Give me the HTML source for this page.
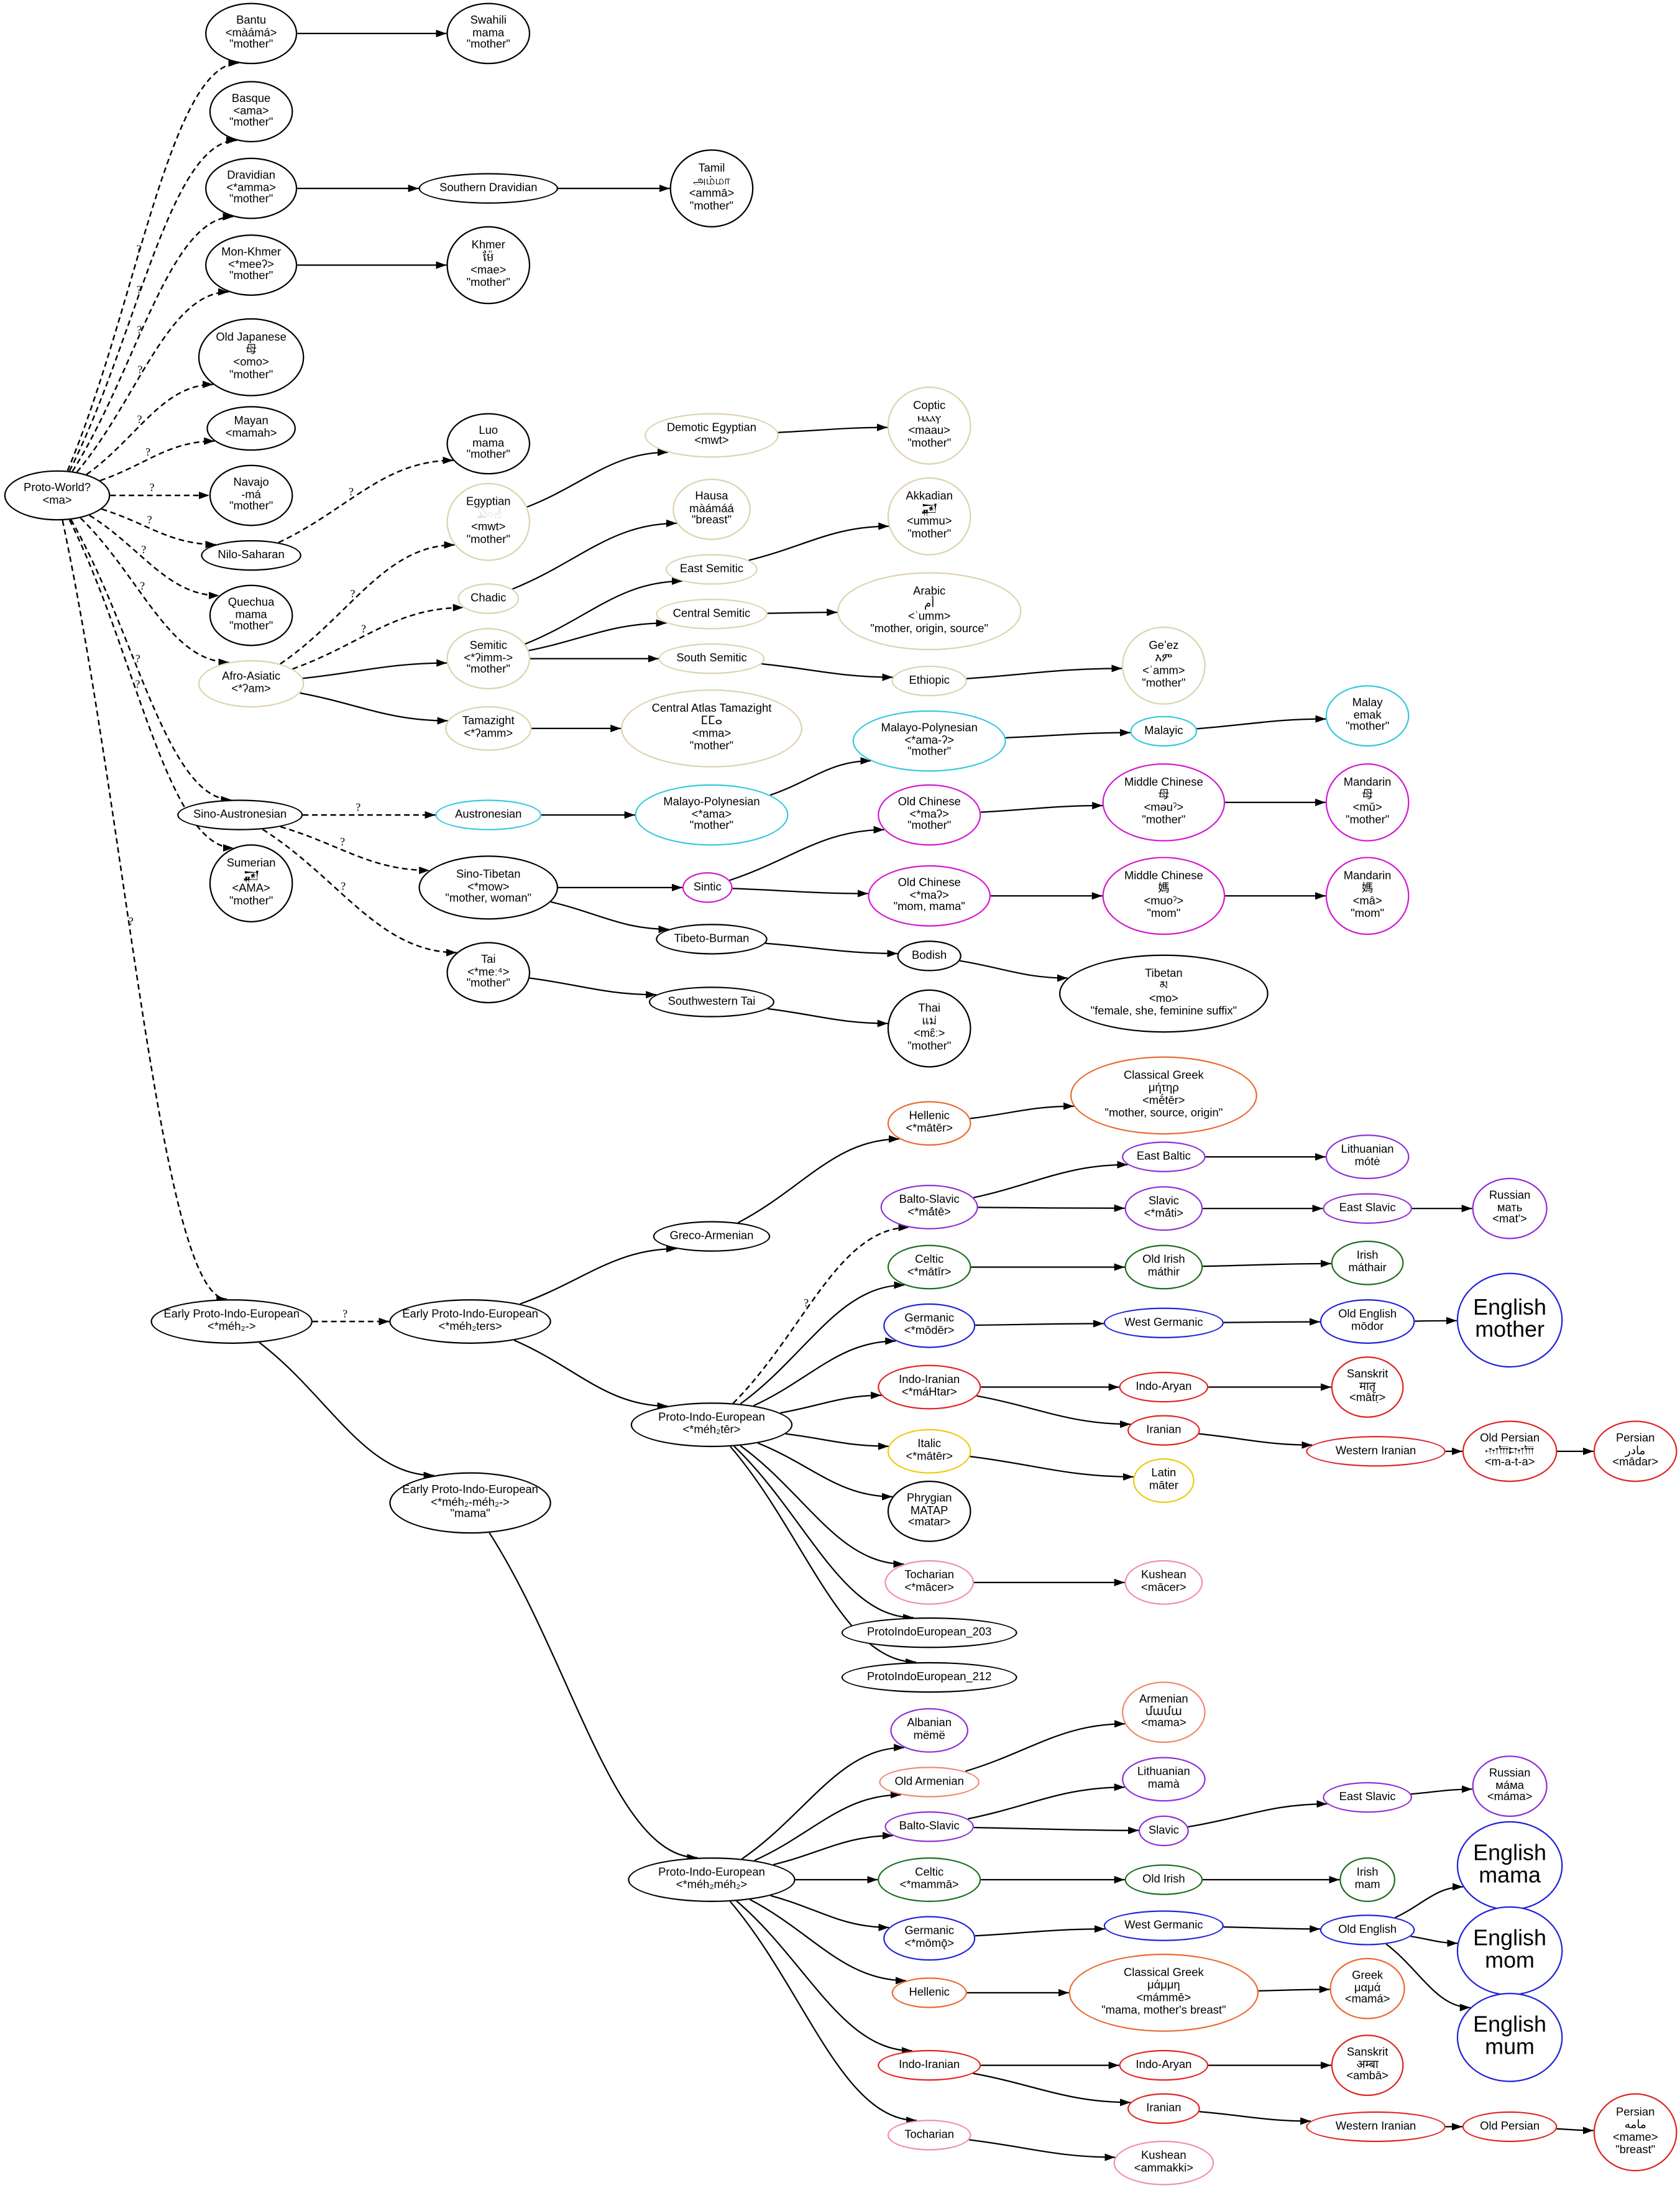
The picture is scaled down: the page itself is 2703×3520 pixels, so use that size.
<!DOCTYPE html>
<html><head><meta charset="utf-8">
<style>
html,body{margin:0;padding:0;background:#fff;width:2703px;height:3520px;overflow:hidden}
#c{position:absolute;left:0;top:0;width:1204px;height:1568px;transform:scale(2.24502);transform-origin:0 0}
svg{position:absolute;left:0;top:0}
.n{position:absolute;left:calc((var(--x) - var(--w))*1px);top:calc((var(--y) - var(--h))*1px);width:calc(var(--w)*2px);height:calc(var(--h)*2px);border:0.5px solid #000;border-radius:50%;box-sizing:border-box;display:flex;align-items:center;justify-content:center;text-align:center;font:8.2px/8.9px "Liberation Sans","Noto Sans CJK SC","DejaVu Sans",sans-serif;white-space:nowrap;background:#fff;color:#000}
.b{border-color:#ddd3ae}.c{border-color:#38c8dc}.m{border-color:#d21ad2}.o{border-color:#ea6a32}.p{border-color:#9030d8}.g{border-color:#1e6e1e}.u{border-color:#2222d8}.r{border-color:#e02424}.y{border-color:#eccc10}.k{border-color:#f28cb8}.s{border-color:#f08a70}
.big{font-size:16px;line-height:16.5px}
.q{font:8px "Liberation Serif",serif;fill:#000}
</style></head><body>
<div id="c">
<svg id="sv" width="1204" height="1568" viewBox="0 0 1204 1568">
<defs><marker id="ar" markerUnits="userSpaceOnUse" markerWidth="8" markerHeight="6" refX="7.5" refY="2.7" orient="auto"><polygon points="0,0 7.5,2.7 0,5.4" fill="#000"/></marker></defs>
<g id="eg"></g></svg>

<div class="n" id="pw" style="--x:41;--y:355;--w:38;--h:18"><div>Proto-World?<br>&lt;ma&gt;</div></div>
<div class="n" id="bantu" style="--x:180;--y:24;--w:33;--h:22"><div>Bantu<br>&lt;màámá&gt;<br>"mother"</div></div>
<div class="n" id="swa" style="--x:350;--y:24;--w:30;--h:22"><div>Swahili<br>mama<br>"mother"</div></div>
<div class="n" id="basque" style="--x:180;--y:80;--w:30;--h:22"><div>Basque<br>&lt;ama&gt;<br>"mother"</div></div>
<div class="n" id="drav" style="--x:180;--y:135;--w:33;--h:22"><div>Dravidian<br>&lt;*amma&gt;<br>"mother"</div></div>
<div class="n" id="sdrav" style="--x:350;--y:135;--w:50;--h:11"><div>Southern Dravidian</div></div>
<div class="n" id="tamil" style="--x:510;--y:135;--w:30;--h:28"><div>Tamil<br>அம்மா<br>&lt;ammā&gt;<br>"mother"</div></div>
<div class="n" id="mk" style="--x:180;--y:190;--w:33;--h:22"><div>Mon-Khmer<br>&lt;*meeʔ&gt;<br>"mother"</div></div>
<div class="n" id="khmer" style="--x:350;--y:190;--w:30;--h:28"><div>Khmer<br>ម៉ែ<br>&lt;mae&gt;<br>"mother"</div></div>
<div class="n" id="oj" style="--x:180;--y:256;--w:38;--h:28"><div>Old Japanese<br>母<br>&lt;omo&gt;<br>"mother"</div></div>
<div class="n" id="mayan" style="--x:180;--y:307;--w:32;--h:16"><div>Mayan<br>&lt;mamah&gt;</div></div>
<div class="n" id="navajo" style="--x:180;--y:355;--w:30;--h:22"><div>Navajo<br>-má<br>"mother"</div></div>
<div class="n" id="ns" style="--x:180;--y:398;--w:36;--h:11"><div>Nilo-Saharan</div></div>
<div class="n" id="quechua" style="--x:180;--y:441;--w:30;--h:22"><div>Quechua<br>mama<br>"mother"</div></div>
<div class="n b" id="aa" style="--x:180;--y:490;--w:38;--h:17"><div>Afro-Asiatic<br>&lt;*ʔam&gt;</div></div>
<div class="n" id="sa" style="--x:172;--y:584;--w:45;--h:11"><div>Sino-Austronesian</div></div>
<div class="n" id="sum" style="--x:180;--y:633;--w:30;--h:28"><div>Sumerian<br>𒂼<br>&lt;AMA&gt;<br>"mother"</div></div>
<div class="n" id="luo" style="--x:350;--y:318;--w:30;--h:22"><div>Luo<br>mama<br>"mother"</div></div>
<div class="n b" id="egy" style="--x:350;--y:374;--w:30;--h:28"><div>Egyptian<br><span style="color:#bbb">𓅐𓏏𓁐</span><br>&lt;mwt&gt;<br>"mother"</div></div>
<div class="n b" id="chad" style="--x:350;--y:429;--w:22;--h:11"><div>Chadic</div></div>
<div class="n b" id="sem" style="--x:350;--y:472;--w:30;--h:22"><div>Semitic<br>&lt;*ʔimm-&gt;<br>"mother"</div></div>
<div class="n b" id="tam" style="--x:350;--y:522;--w:31;--h:16"><div>Tamazight<br>&lt;*ʔamm&gt;</div></div>
<div class="n b" id="dem" style="--x:510;--y:312;--w:48;--h:16"><div>Demotic Egyptian<br>&lt;mwt&gt;</div></div>
<div class="n b" id="hausa" style="--x:510;--y:365;--w:28;--h:22"><div>Hausa<br>màámáá<br>"breast"</div></div>
<div class="n b" id="esem" style="--x:510;--y:408;--w:33;--h:11"><div>East Semitic</div></div>
<div class="n b" id="csem" style="--x:510;--y:440;--w:40;--h:11"><div>Central Semitic</div></div>
<div class="n b" id="ssem" style="--x:510;--y:472;--w:38;--h:11"><div>South Semitic</div></div>
<div class="n b" id="cat" style="--x:510;--y:522;--w:65;--h:28"><div>Central Atlas Tamazight<br>ⵎⵎⴰ<br>&lt;mma&gt;<br>"mother"</div></div>
<div class="n b" id="coptic" style="--x:666;--y:305;--w:30;--h:28"><div>Coptic<br>ⲙⲁⲁⲩ<br>&lt;maau&gt;<br>"mother"</div></div>
<div class="n b" id="akk" style="--x:666;--y:370;--w:30;--h:28"><div>Akkadian<br>𒂼<br>&lt;ummu&gt;<br>"mother"</div></div>
<div class="n b" id="arab" style="--x:666;--y:438;--w:66;--h:28"><div>Arabic<br>أم<br>&lt;ʾumm&gt;<br>"mother, origin, source"</div></div>
<div class="n b" id="eth" style="--x:666;--y:488;--w:27;--h:11"><div>Ethiopic</div></div>
<div class="n b" id="geez" style="--x:834;--y:477;--w:30;--h:28"><div>Geʽez<br>እም<br>&lt;ʾamm&gt;<br>"mother"</div></div>
<div class="n c" id="aus" style="--x:350;--y:584;--w:38;--h:11"><div>Austronesian</div></div>
<div class="n" id="st" style="--x:350;--y:636;--w:50;--h:23"><div>Sino-Tibetan<br>&lt;*mow&gt;<br>"mother, woman"</div></div>
<div class="n" id="tai" style="--x:350;--y:697;--w:30;--h:22"><div>Tai<br>&lt;*meː⁴&gt;<br>"mother"</div></div>
<div class="n c" id="mp1" style="--x:510;--y:584;--w:55;--h:22"><div>Malayo-Polynesian<br>&lt;*ama&gt;<br>"mother"</div></div>
<div class="n c" id="mp2" style="--x:666;--y:531;--w:55;--h:22"><div>Malayo-Polynesian<br>&lt;*ama-ʔ&gt;<br>"mother"</div></div>
<div class="n c" id="malayic" style="--x:834;--y:524;--w:24;--h:11"><div>Malayic</div></div>
<div class="n c" id="malay" style="--x:980;--y:513;--w:30;--h:22"><div>Malay<br>emak<br>"mother"</div></div>
<div class="n m" id="sintic" style="--x:507;--y:636;--w:18;--h:11"><div>Sintic</div></div>
<div class="n m" id="oc1" style="--x:666;--y:584;--w:37;--h:22"><div>Old Chinese<br>&lt;*maʔ&gt;<br>"mother"</div></div>
<div class="n m" id="oc2" style="--x:666;--y:642;--w:44;--h:22"><div>Old Chinese<br>&lt;*maʔ&gt;<br>"mom, mama"</div></div>
<div class="n m" id="mc1" style="--x:834;--y:575;--w:44;--h:28"><div>Middle Chinese<br>母<br>&lt;məuˀ&gt;<br>"mother"</div></div>
<div class="n m" id="mc2" style="--x:834;--y:642;--w:44;--h:28"><div>Middle Chinese<br>媽<br>&lt;muoˀ&gt;<br>"mom"</div></div>
<div class="n m" id="man1" style="--x:980;--y:575;--w:30;--h:28"><div>Mandarin<br>母<br>&lt;mǔ&gt;<br>"mother"</div></div>
<div class="n m" id="man2" style="--x:980;--y:642;--w:30;--h:28"><div>Mandarin<br>媽<br>&lt;mā&gt;<br>"mom"</div></div>
<div class="n" id="tb" style="--x:510;--y:673;--w:40;--h:11"><div>Tibeto-Burman</div></div>
<div class="n" id="bod" style="--x:666;--y:685;--w:23;--h:11"><div>Bodish</div></div>
<div class="n" id="tib" style="--x:834;--y:712;--w:75;--h:28"><div>Tibetan<br>མ<br>&lt;mo&gt;<br>"female, she, feminine suffix"</div></div>
<div class="n" id="swt" style="--x:510;--y:718;--w:45;--h:11"><div>Southwestern Tai</div></div>
<div class="n" id="thai" style="--x:666;--y:737;--w:30;--h:28"><div>Thai<br>แม่<br>&lt;mɛ̂ː&gt;<br>"mother"</div></div>
<div class="n" id="e1" style="--x:166;--y:947;--w:58;--h:16"><div>Early Proto-Indo-European<br>&lt;*méh₂-&gt;</div></div>
<div class="n" id="e2" style="--x:337;--y:947;--w:58;--h:16"><div>Early Proto-Indo-European<br>&lt;*méh₂ters&gt;</div></div>
<div class="n" id="e3" style="--x:337;--y:1077;--w:58;--h:22"><div>Early Proto-Indo-European<br>&lt;*méh₂-méh₂-&gt;<br>"mama"</div></div>
<div class="n" id="ga" style="--x:510;--y:886;--w:42;--h:11"><div>Greco-Armenian</div></div>
<div class="n" id="pie1" style="--x:510;--y:1021;--w:58;--h:16"><div>Proto-Indo-European<br>&lt;*méh₂tēr&gt;</div></div>
<div class="n o" id="hel" style="--x:666;--y:805;--w:30;--h:16"><div>Hellenic<br>&lt;*mātēr&gt;</div></div>
<div class="n o" id="cg" style="--x:834;--y:785;--w:67;--h:28"><div>Classical Greek<br>μήτηρ<br>&lt;mḗtēr&gt;<br>"mother, source, origin"</div></div>
<div class="n p" id="bs" style="--x:666;--y:865;--w:35;--h:16"><div>Balto-Slavic<br>&lt;*mā́tē&gt;</div></div>
<div class="n p" id="eb" style="--x:834;--y:829;--w:30;--h:11"><div>East Baltic</div></div>
<div class="n p" id="lit" style="--x:980;--y:829;--w:30;--h:16"><div>Lithuanian<br>mótė</div></div>
<div class="n p" id="sl" style="--x:834;--y:866;--w:28;--h:16"><div>Slavic<br>&lt;*mā́ti&gt;</div></div>
<div class="n p" id="es" style="--x:980;--y:866;--w:32;--h:11"><div>East Slavic</div></div>
<div class="n p" id="rus" style="--x:1082;--y:866;--w:27;--h:22"><div>Russian<br>мать<br>&lt;matʹ&gt;</div></div>
<div class="n g" id="cel" style="--x:666;--y:908;--w:30;--h:16"><div>Celtic<br>&lt;*mātīr&gt;</div></div>
<div class="n g" id="oi" style="--x:834;--y:908;--w:28;--h:16"><div>Old Irish<br>máthir</div></div>
<div class="n g" id="iri" style="--x:980;--y:905;--w:26;--h:16"><div>Irish<br>máthair</div></div>
<div class="n u" id="ger" style="--x:666;--y:950;--w:33;--h:16"><div>Germanic<br>&lt;*mōdēr&gt;</div></div>
<div class="n u" id="wg" style="--x:834;--y:948;--w:43;--h:11"><div>West Germanic</div></div>
<div class="n u" id="oe" style="--x:980;--y:947;--w:34;--h:16"><div>Old English<br>mōdor</div></div>
<div class="n u big" id="em" style="--x:1082;--y:946;--w:38;--h:34"><div>English<br>mother</div></div>
<div class="n r" id="ii" style="--x:666;--y:994;--w:37;--h:16"><div>Indo-Iranian<br>&lt;*máHtar&gt;</div></div>
<div class="n r" id="ia" style="--x:834;--y:994;--w:32;--h:11"><div>Indo-Aryan</div></div>
<div class="n r" id="san" style="--x:980;--y:994;--w:26;--h:22"><div>Sanskrit<br>मातृ<br>&lt;mātṛ&gt;</div></div>
<div class="n r" id="ir" style="--x:834;--y:1025;--w:26;--h:11"><div>Iranian</div></div>
<div class="n r" id="wi" style="--x:986;--y:1040;--w:50;--h:11"><div>Western Iranian</div></div>
<div class="n r" id="op" style="--x:1082;--y:1040;--w:34;--h:22"><div>Old Persian<br>𐎶𐎠𐎫𐎠<br>&lt;m-a-t-a&gt;</div></div>
<div class="n r" id="per" style="--x:1172;--y:1040;--w:30;--h:22"><div>Persian<br>مادر<br>&lt;mādar&gt;</div></div>
<div class="n y" id="ita" style="--x:666;--y:1040;--w:30;--h:16"><div>Italic<br>&lt;*mātēr&gt;</div></div>
<div class="n y" id="lat" style="--x:834;--y:1061;--w:22;--h:16"><div>Latin<br>māter</div></div>
<div class="n" id="phr" style="--x:666;--y:1083;--w:30;--h:22"><div>Phrygian<br>ΜΑΤΑΡ<br>&lt;matar&gt;</div></div>
<div class="n k" id="toc" style="--x:666;--y:1134;--w:32;--h:16"><div>Tocharian<br>&lt;*mācer&gt;</div></div>
<div class="n k" id="kus" style="--x:834;--y:1134;--w:28;--h:16"><div>Kushean<br>&lt;mācer&gt;</div></div>
<div class="n" id="p203" style="--x:666;--y:1170;--w:63;--h:11"><div>ProtoIndoEuropean_203</div></div>
<div class="n" id="p212" style="--x:666;--y:1202;--w:63;--h:11"><div>ProtoIndoEuropean_212</div></div>
<div class="n" id="pie2" style="--x:510;--y:1347;--w:60;--h:16"><div>Proto-Indo-European<br>&lt;*méh₂méh₂&gt;</div></div>
<div class="n p" id="alb" style="--x:666;--y:1240;--w:28;--h:16"><div>Albanian<br>mëmë</div></div>
<div class="n s" id="arm" style="--x:834;--y:1227;--w:30;--h:22"><div>Armenian<br>մամա<br>&lt;mama&gt;</div></div>
<div class="n s" id="oa" style="--x:666;--y:1277;--w:36;--h:11"><div>Old Armenian</div></div>
<div class="n p" id="lit2" style="--x:834;--y:1275;--w:30;--h:16"><div>Lithuanian<br>mamà</div></div>
<div class="n p" id="bs2" style="--x:666;--y:1309;--w:32;--h:11"><div>Balto-Slavic</div></div>
<div class="n p" id="sl2" style="--x:834;--y:1312;--w:18;--h:11"><div>Slavic</div></div>
<div class="n p" id="es2" style="--x:980;--y:1288;--w:32;--h:11"><div>East Slavic</div></div>
<div class="n p" id="rus2" style="--x:1082;--y:1280;--w:27;--h:22"><div>Russian<br>мáма<br>&lt;máma&gt;</div></div>
<div class="n g" id="cel2" style="--x:666;--y:1347;--w:37;--h:16"><div>Celtic<br>&lt;*mammā&gt;</div></div>
<div class="n g" id="oi2" style="--x:834;--y:1347;--w:28;--h:11"><div>Old Irish</div></div>
<div class="n g" id="iri2" style="--x:980;--y:1347;--w:20;--h:16"><div>Irish<br>mam</div></div>
<div class="n u" id="ger2" style="--x:666;--y:1389;--w:33;--h:16"><div>Germanic<br>&lt;*mōmǭ&gt;</div></div>
<div class="n u" id="wg2" style="--x:834;--y:1380;--w:43;--h:11"><div>West Germanic</div></div>
<div class="n u" id="oe2" style="--x:980;--y:1383;--w:34;--h:11"><div>Old English</div></div>
<div class="n u big" id="ema" style="--x:1082;--y:1337;--w:38;--h:32"><div>English<br>mama</div></div>
<div class="n u big" id="emo" style="--x:1082;--y:1398;--w:38;--h:32"><div>English<br>mom</div></div>
<div class="n u big" id="emu" style="--x:1082;--y:1460;--w:38;--h:32"><div>English<br>mum</div></div>
<div class="n o" id="hel2" style="--x:666;--y:1428;--w:27;--h:11"><div>Hellenic</div></div>
<div class="n o" id="cg2" style="--x:834;--y:1428;--w:68;--h:28"><div>Classical Greek<br>μάμμη<br>&lt;mámmē&gt;<br>"mama, mother's breast"</div></div>
<div class="n o" id="gre" style="--x:980;--y:1425;--w:27;--h:22"><div>Greek<br>μαμά<br>&lt;mamá&gt;</div></div>
<div class="n r" id="ii2" style="--x:666;--y:1480;--w:37;--h:11"><div>Indo-Iranian</div></div>
<div class="n r" id="ia2" style="--x:834;--y:1480;--w:32;--h:11"><div>Indo-Aryan</div></div>
<div class="n r" id="san2" style="--x:980;--y:1480;--w:26;--h:22"><div>Sanskrit<br>अम्बा<br>&lt;ambā&gt;</div></div>
<div class="n r" id="ir2" style="--x:834;--y:1511;--w:26;--h:11"><div>Iranian</div></div>
<div class="n r" id="wi2" style="--x:986;--y:1524;--w:50;--h:11"><div>Western Iranian</div></div>
<div class="n r" id="op2" style="--x:1082;--y:1524;--w:34;--h:11"><div>Old Persian</div></div>
<div class="n r" id="per2" style="--x:1172;--y:1528;--w:30;--h:28"><div>Persian<br>مامه<br>&lt;mame&gt;<br>"breast"</div></div>
<div class="n k" id="toc2" style="--x:666;--y:1530;--w:30;--h:11"><div>Tocharian</div></div>
<div class="n k" id="kus2" style="--x:834;--y:1550;--w:36;--h:16"><div>Kushean<br>&lt;ammakki&gt;</div></div>
</div>
<script>
(function(){
var E="pw?bantu pw?basque pw?drav pw?mk pw?oj pw?mayan pw?navajo pw?ns pw?quechua pw?aa pw?sa pw?sum pw?e1 ns?luo aa?egy aa?chad sa?aus sa?st sa?tai e1?e2 pie1?bs "+
"bantu>swa drav>sdrav sdrav>tamil mk>khmer aa>sem aa>tam egy>dem dem>coptic chad>hausa sem>esem sem>csem sem>ssem esem>akk csem>arab ssem>eth eth>geez tam>cat aus>mp1 mp1>mp2 mp2>malayic malayic>malay st>sintic st>tb sintic>oc1 sintic>oc2 oc1>mc1 mc1>man1 oc2>mc2 mc2>man2 tb>bod bod>tib tai>swt swt>thai e1>e3 e2>ga e2>pie1 ga>hel hel>cg pie1>cel pie1>ger pie1>ii pie1>ita pie1>phr pie1>toc pie1>p203 pie1>p212 bs>eb eb>lit bs>sl sl>es es>rus cel>oi oi>iri ger>wg wg>oe oe>em ii>ia ia>san ii>ir ir>wi wi>op op>per ita>lat toc>kus e3>pie2 pie2>alb pie2>oa pie2>bs2 pie2>cel2 pie2>ger2 pie2>hel2 pie2>ii2 pie2>toc2 oa>arm bs2>lit2 bs2>sl2 sl2>es2 es2>rus2 cel2>oi2 oi2>iri2 ger2>wg2 wg2>oe2 oe2>ema oe2>emo oe2>emu hel2>cg2 cg2>gre ii2>ia2 ia2>san2 ii2>ir2 ir2>wi2 wi2>op2 op2>per2 toc2>kus2";
function g(id){var s=document.getElementById(id).style;return{x:+s.getPropertyValue('--x'),y:+s.getPropertyValue('--y'),w:+s.getPropertyValue('--w'),h:+s.getPropertyValue('--h')};}
function bd(n,dx,dy){var t=1/Math.sqrt(dx*dx/(n.w*n.w)+dy*dy/(n.h*n.h));return[n.x+dx*t,n.y+dy*t];}
var out="";
E.split(" ").forEach(function(t){var d=t.indexOf("?")>0,p=t.split(d?"?":">"),A=g(p[0]),B=g(p[1]);
var dx=B.x-A.x,dy=B.y-A.y,p0=bd(A,dx,dy),p3=bd(B,-dx,-dy);var L=Math.hypot(p3[0]-p0[0],p3[1]-p0[1]);var ux=dx/Math.hypot(dx,dy),uy=dy/Math.hypot(dx,dy);
var c1=[p0[0]+ux*L*0.4,p0[1]+uy*L*0.4],c2=[p3[0]-Math.max(0.4*Math.abs(p3[0]-p0[0]),3),p3[1]];
out+='<path d="M'+p0[0].toFixed(1)+','+p0[1].toFixed(1)+' C'+c1[0].toFixed(1)+','+c1[1].toFixed(1)+' '+c2[0].toFixed(1)+','+c2[1].toFixed(1)+' '+p3[0].toFixed(1)+','+p3[1].toFixed(1)+'" fill="none" stroke="#000" stroke-width="'+(d?1.1:1)+'"'+(d?' stroke-dasharray="4,2.6"':'')+' marker-end="url(#ar)"/>';
if(d){var s=0.4,m=1-s;var x=m*m*m*p0[0]+3*m*m*s*c1[0]+3*m*s*s*c2[0]+s*s*s*p3[0],y=m*m*m*p0[1]+3*m*m*s*c1[1]+3*m*s*s*c2[1]+s*s*s*p3[1];
out+='<text class="q" x="'+(x-1).toFixed(1)+'" y="'+(y-3).toFixed(1)+'">?</text>';}
});
document.getElementById("eg").innerHTML=out;
})();
</script>
</body></html>
